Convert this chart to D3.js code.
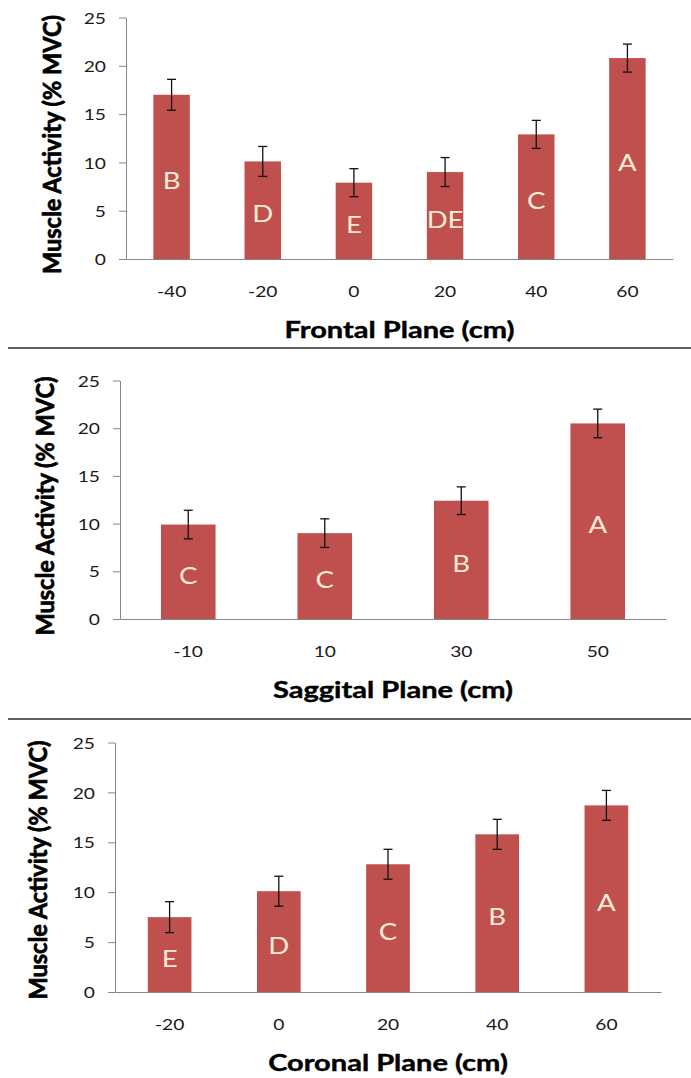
<!DOCTYPE html>
<html>
<head>
<meta charset="utf-8">
<script src="https://cdn.jsdelivr.net/npm/d3@7"></script>
<style>
  html, body { margin: 0; padding: 0; background: #fff; }
  svg { display: block; }
</style>
</head>
<body>
<svg id="chart" width="691" height="1078"></svg>
<script>
// ---------------- DATA ----------------
const yTicks = [0, 5, 10, 15, 20, 25];

const frontalCategories = ["-40", "-20", "0", "20", "40", "60"];
const frontalValues     = [17.0, 10.1, 7.9, 9.0, 12.9, 20.8];
const frontalErrors     = [1.6, 1.55, 1.45, 1.5, 1.45, 1.45];
const frontalLetters    = ["B", "D", "E", "DE", "C", "A"];

const saggitalCategories = ["-10", "10", "30", "50"];
const saggitalValues     = [9.9, 9.0, 12.4, 20.5];
const saggitalErrors     = [1.5, 1.5, 1.45, 1.5];
const saggitalLetters    = ["C", "C", "B", "A"];

const coronalCategories = ["-20", "0", "20", "40", "60"];
const coronalValues     = [7.5, 10.1, 12.8, 15.8, 18.7];
const coronalErrors     = [1.55, 1.5, 1.5, 1.5, 1.5];
const coronalLetters    = ["E", "D", "C", "B", "A"];

const yTitle = "Muscle Activity (% MVC)";
const xTitles = ["Frontal Plane (cm)", "Saggital Plane (cm)", "Coronal Plane (cm)"];

// ---------------- LAYOUT / STYLE ----------------
const layouts = [
  { left: 126, right: 673, top: 17.5, bottom: 259, ytX: 61,   ytY: 144.5 },
  { left: 120, right: 666, top: 380.5, bottom: 619, ytX: 53.5, ytY: 506 },
  { left: 115, right: 661, top: 742.5, bottom: 992, ytX: 47,   ytY: 870 }
];
const separators = [348, 719];
const BAR = "#C0504D";
const AXIS = "#868686";
const TXT = "#1a1a1a";
const SX = 1.2;      // horizontal stretch of regular text
const SXB = 1.32;    // horizontal stretch of bold titles
const FONT = "Lato, 'Open Sans', sans-serif";

const panels = [
  { cats: frontalCategories, vals: frontalValues, errs: frontalErrors, letters: frontalLetters, xTitle: xTitles[0] },
  { cats: saggitalCategories, vals: saggitalValues, errs: saggitalErrors, letters: saggitalLetters, xTitle: xTitles[1] },
  { cats: coronalCategories, vals: coronalValues, errs: coronalErrors, letters: coronalLetters, xTitle: xTitles[2] }
];

const svg = d3.select("#chart");

// separators
svg.selectAll("line.sep").data(separators).join("line")
  .attr("class", "sep")
  .attr("x1", 8).attr("x2", 691)
  .attr("y1", d => d).attr("y2", d => d)
  .attr("stroke", "#2b2b2b").attr("stroke-width", 1.6);

panels.forEach((p, pi) => {
  const L = layouts[pi];
  const g = svg.append("g");
  const rows = p.cats.map((c, i) => ({ c, v: p.vals[i], e: p.errs[i], l: p.letters[i] }));

  const x = d3.scaleBand().domain(p.cats).range([L.left, L.right])
    .paddingInner(0.6).paddingOuter(0.3);
  const y = d3.scaleLinear().domain([0, 25]).range([L.bottom, L.top]);

  // bars
  g.selectAll("rect.bar").data(rows).join("rect")
    .attr("class", "bar")
    .attr("x", d => x(d.c))
    .attr("width", x.bandwidth())
    .attr("y", d => y(d.v))
    .attr("height", d => y(0) - y(d.v))
    .attr("fill", BAR);

  // y axis
  const ya = g.append("g").attr("transform", `translate(${L.left},0)`)
    .call(d3.axisLeft(y).tickValues(yTicks).tickSize(7).tickSizeOuter(0));
  ya.select(".domain").attr("stroke", AXIS);
  ya.selectAll(".tick line").attr("stroke", AXIS);
  ya.selectAll(".tick text")
    .attr("x", null).attr("dy", null)
    .attr("transform", `translate(-20,5.6) scale(${SX},1)`)
    .attr("text-anchor", "end")
    .attr("fill", TXT)
    .style("font-family", FONT).style("font-size", "16px");

  // x axis
  const xa = g.append("g").attr("transform", `translate(0,${L.bottom})`)
    .call(d3.axisBottom(x).tickSize(0).tickSizeOuter(0));
  xa.select(".domain").attr("stroke", AXIS);
  xa.selectAll(".tick text")
    .attr("y", null).attr("dy", null)
    .attr("transform", `translate(0,38) scale(${SX},1)`)
    .attr("text-anchor", "middle")
    .attr("fill", TXT)
    .style("font-family", FONT).style("font-size", "16px");

  // error bars
  const eb = g.selectAll("g.err").data(rows).join("g").attr("class", "err")
    .attr("stroke", "#111").attr("stroke-width", 1.3);
  const cx = d => x(d.c) + x.bandwidth() / 2;
  eb.append("line")
    .attr("x1", cx).attr("x2", cx)
    .attr("y1", d => y(d.v + d.e)).attr("y2", d => y(d.v - d.e));
  eb.append("line")
    .attr("x1", d => cx(d) - 4.5).attr("x2", d => cx(d) + 4.5)
    .attr("y1", d => y(d.v + d.e)).attr("y2", d => y(d.v + d.e));
  eb.append("line")
    .attr("x1", d => cx(d) - 4.5).attr("x2", d => cx(d) + 4.5)
    .attr("y1", d => y(d.v - d.e)).attr("y2", d => y(d.v - d.e));

  // letters in bars
  g.selectAll("text.letter").data(rows).join("text")
    .attr("class", "letter")
    .attr("transform", d => `translate(${cx(d)},${y(d.v / 2) + 12}) scale(${SX},1)`)
    .attr("text-anchor", "middle")
    .attr("fill", "#FAEBD7")
    .style("font-family", FONT).style("font-size", "23px")
    .text(d => d.l);

  // y title
  g.append("text")
    .attr("transform", `translate(${L.ytX},${L.ytY}) rotate(-90)`)
    .attr("text-anchor", "middle")
    .attr("textLength", 259).attr("lengthAdjust", "spacingAndGlyphs")
    .attr("fill", "#000").attr("stroke", "#000").attr("stroke-width", 0.7)
    .style("font-family", FONT).style("font-weight", "bold").style("font-size", "24px")
    .text(yTitle);

  // x title
  g.append("text")
    .attr("transform", `translate(${(L.left + L.right) / 2},${L.bottom + 79}) scale(${SXB},1)`)
    .attr("text-anchor", "middle")
    .attr("fill", "#000").attr("stroke", "#000").attr("stroke-width", 0.4)
    .style("font-family", FONT).style("font-weight", "bold").style("font-size", "22px")
    .text(p.xTitle);
});
</script>
</body>
</html>
